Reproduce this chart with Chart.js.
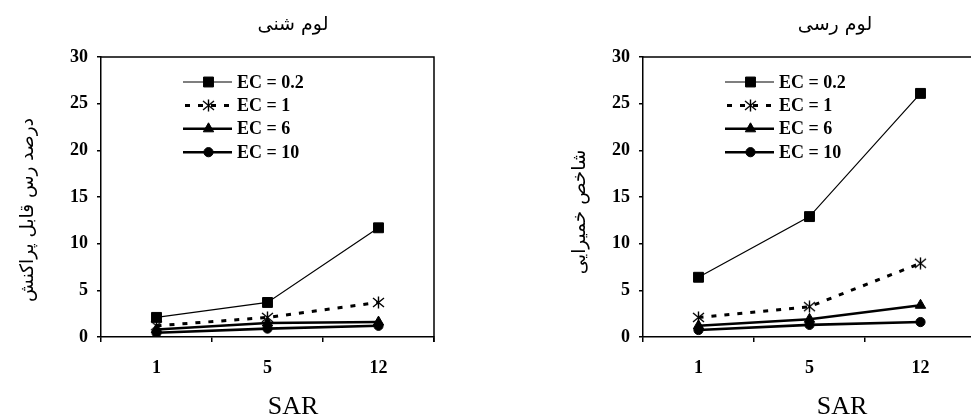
<!DOCTYPE html>
<html>
<head>
<meta charset="utf-8">
<script src="https://cdn.jsdelivr.net/npm/chart.js@4.4.1/dist/chart.umd.min.js"></script>
<style>
  html, body { margin: 0; padding: 0; background: #fff; overflow: hidden; width: 971px; height: 416px; }
  #wrap { position: relative; width: 971px; height: 416px; overflow: hidden; }
  canvas { position: absolute; top: 0; }
  #c1 { left: 0; }
  #c2 { left: 490px; }
</style>
</head>
<body>
<div id="wrap">
  <canvas id="c1" width="490" height="416"></canvas>
  <canvas id="c2" width="542" height="416"></canvas>
</div>
<script>
// ---- data ----
const categories = ['1', '5', '12'];
const seriesLabels = ['EC = 0.2', 'EC = 1', 'EC = 6', 'EC = 10'];
const yTickValues = [0, 5, 10, 15, 20, 25, 30];

// Left chart: لوم شنی (dispersible clay %)
const sandy_EC02 = [2.1, 3.7, 11.7];
const sandy_EC1  = [1.2, 2.1, 3.7];
const sandy_EC6  = [0.8, 1.5, 1.6];
const sandy_EC10 = [0.45, 0.9, 1.2];

// Right chart: لوم رسی (plasticity index)
const clay_EC02 = [6.4, 12.9, 26.1];
const clay_EC1  = [2.1, 3.25, 7.9];
const clay_EC6  = [1.2, 1.9, 3.4];
const clay_EC10 = [0.75, 1.3, 1.6];

const leftTitle = 'لوم شنی';
const rightTitle = 'لوم رسی';
const leftYTitle = 'درصد رس قابل پراکنش';
const rightYTitle = 'شاخص خمیرایی';
const xTitle = 'SAR';

// six-armed asterisk marker
function makeAsterisk() {
  const c = document.createElement('canvas');
  c.width = 13; c.height = 13;
  const g = c.getContext('2d');
  g.strokeStyle = '#000';
  g.lineWidth = 1.4;
  g.beginPath();
  g.moveTo(6.5, 0.5); g.lineTo(6.5, 12.5);
  g.moveTo(1, 2); g.lineTo(12, 11);
  g.moveTo(12, 2); g.lineTo(1, 11);
  g.stroke();
  return c;
}
const asterisk = makeAsterisk();

// ---- styles ----
const styles = [
  { pointStyle: 'rect', radius: 7, borderWidth: 1.2, dash: [], pbw: 1 },
  { pointStyle: asterisk, radius: 6, borderWidth: 3, dash: [5, 8], pbw: 1.2 },
  { pointStyle: 'triangle', radius: 6, borderWidth: 2.6, dash: [], pbw: 1 },
  { pointStyle: 'circle', radius: 4.6, borderWidth: 2.6, dash: [], pbw: 1 }
];

function makeDatasets(arrs) {
  return arrs.map((d, i) => ({
    label: seriesLabels[i],
    data: d,
    borderColor: '#000',
    backgroundColor: '#000',
    borderWidth: styles[i].borderWidth,
    borderDash: styles[i].dash,
    pointStyle: styles[i].pointStyle,
    pointRadius: styles[i].radius,
    pointBorderWidth: styles[i].pbw,
    pointBackgroundColor: '#000',
    pointBorderColor: '#000',
    tension: 0,
    fill: false
  }));
}

const SERIF = '"Liberation Serif", "Times New Roman", serif';
const ARABIC = '"DejaVu Sans", sans-serif';

function decorPlugin(cfg) {
  return {
    id: 'decor',
    afterDraw(chart) {
      const ctx = chart.ctx;
      const ca = chart.chartArea;
      ctx.save();
      // top and right frame
      ctx.strokeStyle = '#000';
      ctx.lineWidth = 1.5;
      ctx.beginPath();
      ctx.moveTo(ca.left, ca.top);
      ctx.lineTo(ca.right, ca.top);
      ctx.lineTo(ca.right, ca.bottom + 5);
      ctx.stroke();

      // legend
      chart.data.datasets.forEach((ds, i) => {
        const y = ca.top + 25 + i * 23.4;
        const x0 = ca.left + 82, x1 = ca.left + 131;
        ctx.save();
        ctx.strokeStyle = '#000';
        ctx.lineWidth = ds.borderWidth;
        ctx.setLineDash(ds.borderDash || []);
        ctx.beginPath();
        if (ds.borderDash && ds.borderDash.length) {
          ctx.moveTo(x0 + 2, y); ctx.lineTo(x1, y);
        } else {
          ctx.moveTo(x0, y); ctx.lineTo(x1, y);
        }
        ctx.stroke();
        ctx.restore();
        ctx.save();
        ctx.fillStyle = '#000';
        ctx.strokeStyle = '#000';
        ctx.lineWidth = ds.pointBorderWidth;
        Chart.helpers.drawPoint(ctx, {
          pointStyle: ds.pointStyle, rotation: 0,
          radius: ds.pointRadius, borderWidth: ds.pointBorderWidth
        }, (x0 + x1) / 2 + 1, y);
        ctx.restore();
        ctx.fillStyle = '#000';
        ctx.font = 'bold 18px ' + SERIF;
        ctx.textAlign = 'left';
        ctx.textBaseline = 'middle';
        ctx.fillText(ds.label, ca.left + 136, y + 1);
      });

      // title
      ctx.fillStyle = '#000';
      ctx.font = '19px ' + ARABIC;
      ctx.textAlign = 'center';
      ctx.textBaseline = 'middle';
      ctx.direction = 'rtl';
      ctx.fillText(cfg.title, ca.left + 192, 25);

      // y title
      ctx.save();
      ctx.translate(cfg.yTitleX, cfg.yTitleY);
      ctx.rotate(-Math.PI / 2);
      ctx.font = '18.5px ' + ARABIC;
      ctx.textAlign = 'center';
      ctx.textBaseline = 'middle';
      ctx.direction = 'rtl';
      ctx.fillText(cfg.yTitle, 0, 0);
      ctx.restore();

      // x title
      ctx.direction = 'ltr';
      ctx.font = '26px ' + SERIF;
      ctx.textAlign = 'center';
      ctx.textBaseline = 'alphabetic';
      ctx.fillText(xTitle, cfg.xTitleX, 414);
      ctx.restore();
    }
  };
}

function makeChart(id, arrs, cfg) {
  return new Chart(document.getElementById(id), {
    type: 'line',
    data: { labels: categories, datasets: makeDatasets(arrs) },
    options: {
      responsive: false,
      animation: false,
      devicePixelRatio: 1,
      layout: { padding: { left: cfg.padLeft, top: 57, right: 56, bottom: 0 } },
      plugins: { legend: { display: false }, tooltip: { enabled: false }, title: { display: false } },
      scales: {
        x: {
          type: 'category',
          offset: true,
          afterFit: (s) => { s.height = 79; },
          grid: { offset: true, drawOnChartArea: false, drawTicks: true, tickLength: 5, color: '#000', lineWidth: 1.5 },
          border: { display: true, color: '#000', width: 1.5 },
          ticks: { color: '#000', padding: 16, font: { family: SERIF, size: 18, weight: 'bold' }, maxRotation: 0 }
        },
        y: {
          min: 0, max: 30,
          afterFit: (s) => { s.width = 101; },
          afterBuildTicks: (s) => { s.ticks = yTickValues.map(v => ({ value: v })); },
          grid: { drawOnChartArea: false, drawTicks: true, tickLength: 4, color: '#000', lineWidth: 1.5 },
          border: { display: true, color: '#000', width: 1.5 },
          ticks: { color: '#000', padding: 9, font: { family: SERIF, size: 18, weight: 'bold' } }
        }
      }
    },
    plugins: [decorPlugin(cfg)]
  });
}

makeChart('c1', [sandy_EC02, sandy_EC1, sandy_EC6, sandy_EC10], {
  padLeft: 0, title: leftTitle, yTitle: leftYTitle, yTitleX: 28, yTitleY: 210, xTitleX: 293
});
makeChart('c2', [clay_EC02, clay_EC1, clay_EC6, clay_EC10], {
  padLeft: 52, title: rightTitle, yTitle: rightYTitle, yTitleX: 90, yTitleY: 212, xTitleX: 352
});
</script>
</body>
</html>
